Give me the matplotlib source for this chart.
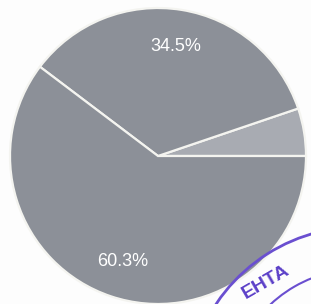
import matplotlib.pyplot as plt
from matplotlib.patches import Arc

shares = [5.2, 34.5, 60.3]
labels = ['', '34.5%', '60.3%']
colors = ['#a8abb2', '#8c9098', '#8c9098']

W, H = 311, 304
fig = plt.figure(figsize=(W / 100, H / 100), dpi=100)
fig.patch.set_facecolor('#fdfdfd')

ax = fig.add_axes([10 / W, 0 / H, 296 / W, 296 / H])
wedges, _, autotexts = ax.pie(shares, colors=colors, startangle=0, counterclock=True,
                              autopct=lambda p: '', pctdistance=0.75,
                              wedgeprops=dict(edgecolor='#f4f4f0', linewidth=1.6))
for t, lab in zip(autotexts, labels):
    t.set_text(lab)
    t.set_color('white')
    t.set_fontsize(13)
    t.set_family('Liberation Sans')
ax.set_xlim(-1, 1)
ax.set_ylim(-1, 1)
ax.set_aspect('equal')
ax.axis('off')

# stamp in the corner of the scan
ov = fig.add_axes([0, 0, 1, 1])
ov.set_xlim(0, W)
ov.set_ylim(H, 0)
ov.axis('off')
ov.patch.set_alpha(0)
ov.add_patch(Arc((360, 400), 346, 346, theta1=200, theta2=275, color='#6a4fd0', lw=2))
ov.add_patch(Arc((360, 400), 262, 262, theta1=205, theta2=275, color='#6a4fd0', lw=1.5))
ov.text(266, 282, 'ЕНТА', color='#5b3fc8', fontsize=14, rotation=30,
        ha='center', va='center', family='Liberation Sans', fontweight='bold')

fig.savefig('out.png', dpi=100)
